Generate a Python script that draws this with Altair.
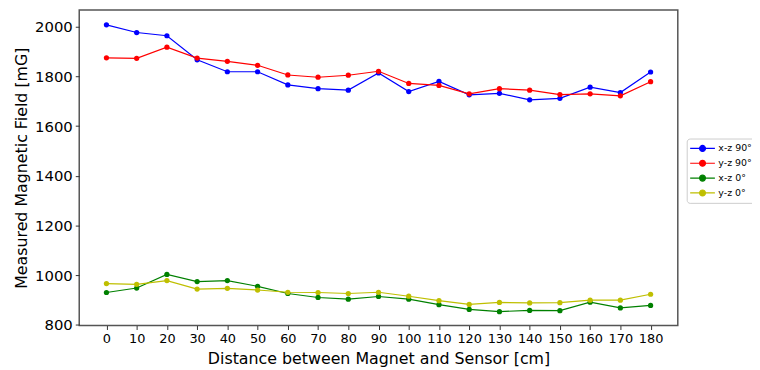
import altair as alt
import pandas as pd

distance = [0, 10, 20, 30, 40, 50, 60, 70, 80, 90, 100, 110, 120, 130, 140, 150, 160, 170, 180]
xz_90 = [2008, 1977, 1964, 1867, 1819, 1819, 1766, 1751, 1745, 1814, 1739, 1780, 1726, 1732, 1706, 1712, 1757, 1735, 1818]
yz_90 = [1875, 1873, 1918, 1874, 1861, 1845, 1806, 1797, 1805, 1821, 1772, 1764, 1730, 1751, 1745, 1727, 1730, 1722, 1779]
xz_0 = [930, 948, 1003, 974, 978, 955, 926, 910, 903, 914, 903, 881, 862, 853, 858, 857, 891, 868, 878]
yz_0 = [966, 963, 978, 944, 947, 940, 931, 930, 926, 931, 915, 897, 882, 890, 888, 889, 899, 899, 923]

series_names = ["x-z 90°", "y-z 90°", "x-z 0°", "y-z 0°"]
series_colors = ["#0000ff", "#ff0000", "#008000", "#bfbf00"]
x_ticks = list(range(0, 181, 10))
y_ticks = [800, 1000, 1200, 1400, 1600, 1800, 2000]

rows = []
for name, vals in zip(series_names, [xz_90, yz_90, xz_0, yz_0]):
    for d, v in zip(distance, vals):
        rows.append({"Distance": d, "Field": v, "Series": name})
df = pd.DataFrame(rows)

font = "DejaVu Sans"

x_enc = alt.X("Distance:Q",
              scale=alt.Scale(domain=[-9, 189], nice=False, zero=False),
              axis=alt.Axis(values=x_ticks, title="Distance between Magnet and Sensor [cm]",
                            grid=False, domain=False, tickSize=4, tickColor="#333",
                            labelFontSize=13, labelPadding=3, titleFontSize=16,
                            titlePadding=5, labelFont=font, titleFont=font,
                            labelColor="#000", titleColor="#000", titleFontWeight="normal"))
y_enc = alt.Y("Field:Q",
              scale=alt.Scale(domain=[797, 2068], nice=False, zero=False),
              axis=alt.Axis(values=y_ticks, format="d", title="Measured Magnetic Field [mG]",
                            grid=False, domain=False, tickSize=4, tickColor="#333",
                            labelFontSize=15, labelPadding=3, titleFontSize=16,
                            titlePadding=5, labelFont=font, titleFont=font,
                            labelColor="#000", titleColor="#000", titleFontWeight="normal"))
color_enc = alt.Color("Series:N",
                      scale=alt.Scale(domain=series_names, range=series_colors),
                      legend=alt.Legend(title=None, orient="none", legendX=614, legendY=130,
                                        symbolType="M -2.5 0 L 2.5 0 M -0.6 0 A 0.6 0.6 0 1 0 0.6 0 A 0.6 0.6 0 1 0 -0.6 0",
                                        symbolSize=100, symbolStrokeWidth=1.2, symbolOffset=6,
                                        labelFontSize=9.5, labelFont=font, labelColor="#000",
                                        rowPadding=3, padding=4, strokeColor="#cccccc",
                                        cornerRadius=3, fillColor="white", labelOffset=10))

lines = alt.Chart(df).mark_line(strokeWidth=1.2).encode(x=x_enc, y=y_enc, color=color_enc)
points = alt.Chart(df).mark_circle(size=28, opacity=1).encode(x=x_enc, y=y_enc, color=color_enc)

chart = alt.layer(lines, points).properties(
    width=605, height=319,
    autosize=alt.AutoSizeParams(type="none"),
    padding={"left": 72, "top": 0, "right": 75, "bottom": 43},
).configure_view(stroke="#555", strokeWidth=1.5)

chart.save("out.html", embed_options={"renderer": "svg", "actions": False})
